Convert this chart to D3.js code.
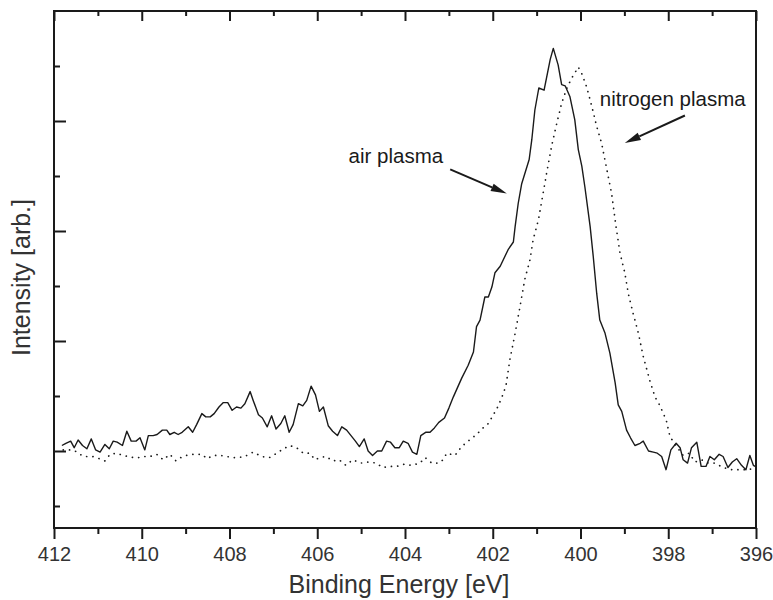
<!DOCTYPE html>
<html>
<head>
<meta charset="utf-8">
<script src="https://cdn.jsdelivr.net/npm/d3@7"></script>
<style>
  body { margin: 0; background: #fff; }
  text { font-family: Arial, "Liberation Sans", sans-serif; }
</style>
</head>
<body>
<svg id="chart" width="773" height="600"></svg>
<script>
// N 1s spectra, binding energy (eV) against intensity (arb. units, baseline = 0).
const airEnergy = [
  411.82, 411.73, 411.62, 411.54, 411.45, 411.35, 411.25, 411.15, 411.05, 410.95,
  410.84, 410.74, 410.65, 410.56, 410.44, 410.34, 410.24, 410.13, 410.04, 409.93,
  409.85, 409.74, 409.65, 409.53, 409.43, 409.36, 409.26, 409.17, 409.08, 408.94,
  408.84, 408.75, 408.63, 408.54, 408.44, 408.35, 408.24, 408.14, 408.04, 407.94,
  407.84, 407.74, 407.65, 407.53, 407.46, 407.34, 407.25, 407.14, 407.04, 406.94,
  406.83, 406.74, 406.64, 406.55, 406.43, 406.33, 406.24, 406.14, 406.04, 405.95,
  405.86, 405.75, 405.65, 405.54, 405.44, 405.33, 405.23, 405.13, 405.04, 404.93,
  404.84, 404.74, 404.63, 404.53, 404.42, 404.33, 404.23, 404.13, 404.04, 403.93,
  403.83, 403.73, 403.64, 403.53, 403.43, 403.33, 403.23, 403.10, 403.00, 402.90,
  402.71, 402.56, 402.44, 402.37, 402.29, 402.18, 402.10, 402.02, 401.95, 401.83,
  401.65, 401.53, 401.49, 401.42, 401.34, 401.17, 401.11, 401.04, 400.95, 400.83,
  400.69, 400.62, 400.51, 400.43, 400.35, 400.24, 400.13, 400.05, 399.97, 399.90,
  399.78, 399.71, 399.63, 399.56, 399.44, 399.33, 399.21, 399.14, 399.06, 398.95,
  398.86, 398.76, 398.64, 398.57, 398.45, 398.34, 398.25, 398.15, 398.05, 397.94,
  397.82, 397.73, 397.66, 397.56, 397.47, 397.35, 397.25, 397.14, 397.05, 396.95,
  396.84, 396.75, 396.64, 396.54, 396.44, 396.33, 396.23, 396.14, 396.06, 396.02
];
const airIntensity = [
  0.05, 0.07, 0.09, 0.03, 0.10, 0.05, 0.02, 0.11, 0.01, -0.01,
  0.06, 0.02, 0.09, 0.08, 0.05, 0.18, 0.09, 0.09, 0.12, 0.01,
  0.14, 0.14, 0.15, 0.19, 0.19, 0.15, 0.17, 0.15, 0.17, 0.22,
  0.17, 0.24, 0.34, 0.31, 0.31, 0.34, 0.40, 0.44, 0.44, 0.37,
  0.40, 0.39, 0.43, 0.54, 0.46, 0.33, 0.30, 0.22, 0.32, 0.20,
  0.25, 0.32, 0.17, 0.24, 0.43, 0.41, 0.46, 0.59, 0.51, 0.36,
  0.40, 0.23, 0.18, 0.14, 0.22, 0.19, 0.14, 0.09, 0.04, 0.11,
  0.00, -0.04, 0.00, 0.00, 0.09, 0.08, 0.03, 0.03, 0.09, 0.07,
  -0.01, -0.03, 0.14, 0.17, 0.17, 0.21, 0.26, 0.30, 0.39, 0.49,
  0.66, 0.78, 0.90, 1.13, 1.19, 1.40, 1.40, 1.49, 1.62, 1.68,
  1.83, 1.90, 2.04, 2.25, 2.43, 2.65, 2.83, 3.10, 3.30, 3.28,
  3.56, 3.66, 3.51, 3.33, 3.32, 3.22, 3.01, 2.74, 2.59, 2.40,
  2.04, 1.77, 1.43, 1.19, 1.07, 0.89, 0.62, 0.42, 0.36, 0.19,
  0.12, 0.05, 0.07, 0.09, 0.00, -0.01, -0.02, -0.05, -0.17, 0.01,
  0.07, 0.03, -0.08, -0.11, 0.03, 0.08, -0.14, -0.14, -0.05, -0.08,
  -0.03, -0.05, -0.15, -0.10, -0.07, -0.13, -0.17, -0.04, -0.13, -0.14
];

const nitrogenEnergy = [
  411.79, 411.62, 411.52, 411.33, 411.22, 411.12, 411.03, 410.84, 410.72, 410.57,
  410.43, 410.31, 410.19, 410.08, 409.94, 409.81, 409.66, 409.51, 409.36, 409.22,
  409.11, 408.98, 408.83, 408.63, 408.51, 408.37, 408.22, 408.06, 407.93, 407.80,
  407.65, 407.46, 407.27, 407.09, 406.92, 406.77, 406.62, 406.43, 406.32, 406.17,
  406.05, 405.94, 405.80, 405.65, 405.50, 405.35, 405.19, 405.01, 404.81, 404.66,
  404.51, 404.34, 404.19, 404.02, 403.85, 403.66, 403.54, 403.39, 403.24, 403.13,
  403.05, 402.86, 402.71, 402.56, 402.37, 402.22, 402.10, 402.00, 401.90, 401.80,
  401.70, 401.61, 401.49, 401.38, 401.27, 401.15, 401.08, 400.96, 400.88, 400.77,
  400.66, 400.54, 400.43, 400.31, 400.20, 400.05, 399.97, 399.86, 399.74, 399.63,
  399.52, 399.40, 399.29, 399.19, 399.10, 398.99, 398.91, 398.80, 398.68, 398.57,
  398.42, 398.30, 398.20, 398.11, 398.04, 397.96, 397.81, 397.66, 397.52, 397.39,
  397.24, 397.09, 396.94, 396.75, 396.55, 396.36, 396.21, 396.06
];
const nitrogenIntensity = [
  0.01, 0.01, 0.00, -0.05, -0.05, -0.05, -0.06, -0.09, -0.03, -0.02,
  -0.04, -0.05, -0.06, -0.06, -0.05, -0.05, -0.03, -0.08, -0.03, -0.09,
  -0.06, -0.04, -0.03, -0.03, -0.07, -0.04, -0.04, -0.05, -0.06, -0.06,
  -0.05, -0.01, -0.05, -0.06, -0.02, 0.02, 0.05, 0.02, -0.02, -0.02,
  -0.08, -0.06, -0.05, -0.09, -0.08, -0.13, -0.08, -0.11, -0.10, -0.11,
  -0.15, -0.14, -0.14, -0.12, -0.13, -0.11, -0.06, -0.11, -0.11, -0.08,
  -0.02, -0.04, 0.04, 0.09, 0.15, 0.21, 0.25, 0.32, 0.39, 0.48,
  0.59, 0.83, 1.07, 1.31, 1.56, 1.74, 1.92, 2.10, 2.28, 2.53,
  2.77, 2.98, 3.16, 3.30, 3.39, 3.49, 3.43, 3.31, 3.13, 2.95,
  2.80, 2.56, 2.34, 2.04, 1.80, 1.62, 1.43, 1.25, 1.07, 0.86,
  0.64, 0.49, 0.42, 0.34, 0.27, 0.13, 0.04, -0.04, -0.02, -0.10,
  -0.08, -0.11, -0.11, -0.15, -0.17, -0.17, -0.17, -0.16
];

const xMajorTicks = [412, 410, 408, 406, 404, 402, 400, 398, 396];
const xMinorTicks = [411, 409, 407, 405, 403, 401, 399, 397];
const yMajorTicks = [0, 1, 2, 3];
const yMinorTicks = [-0.5, 0.5, 1.5, 2.5, 3.5];

// Annotations: text position plus an arrow from -> to, all in (energy, intensity)
const airLabel = { text: "air plasma", at: [403.13, 2.62], anchor: "end", from: [402.97, 2.56], to: [401.68, 2.34] };
const nitrogenLabel = { text: "nitrogen plasma", at: [399.56, 3.14], anchor: "start", from: [397.62, 3.05], to: [398.99, 2.80] };

const LEFT = 54, RIGHT = 756, TOP = 11, BOTTOM = 528;
const INK = "#1a1a1a";
const TEXT = "#333";

const svg = d3.select("#chart");

const x = d3.scaleLinear().domain([412, 396]).range([LEFT, RIGHT]);
const y = d3.scaleLinear().domain([-0.7, 4.0]).range([BOTTOM, TOP]);

// Curves go under the frame so the frame stays crisp at the edges.
const line = d3.line()
  .x((d) => x(d[0]))
  .y((d) => y(d[1]));

const airData = airEnergy.map((e, i) => [e, airIntensity[i]]);
const nitrogenData = nitrogenEnergy.map((e, i) => [e, nitrogenIntensity[i]]);

svg.append("path")
  .datum(nitrogenData)
  .attr("d", line)
  .attr("fill", "none")
  .attr("stroke", INK)
  .attr("stroke-width", 1.7)
  .attr("stroke-linecap", "round")
  .attr("stroke-dasharray", "0.1 6.2");

svg.append("path")
  .datum(airData)
  .attr("d", line)
  .attr("fill", "none")
  .attr("stroke", INK)
  .attr("stroke-width", 1.4)
  .attr("stroke-linejoin", "round");

// Axes. Bottom ticks point out, top and left ticks point in, right side is bare.
function hideDomain(g) {
  g.select(".domain").remove();
  g.selectAll(".tick line").attr("stroke", INK).attr("stroke-width", 2);
}

svg.append("g")
  .attr("transform", `translate(0,${BOTTOM})`)
  .call(d3.axisBottom(x).tickValues(xMajorTicks).tickSize(11).tickPadding(8).tickFormat(d3.format("d")))
  .call(hideDomain)
  .call((g) => g.selectAll("text")
    .attr("fill", TEXT)
    .style("font-size", "20px"));

svg.append("g")
  .attr("transform", `translate(0,${BOTTOM})`)
  .call(d3.axisBottom(x).tickValues(xMinorTicks).tickSize(6).tickFormat(""))
  .call(hideDomain);

svg.append("g")
  .attr("transform", `translate(0,${TOP})`)
  .call(d3.axisBottom(x).tickValues(xMajorTicks).tickSize(10).tickFormat(""))
  .call(hideDomain);

svg.append("g")
  .attr("transform", `translate(0,${TOP})`)
  .call(d3.axisBottom(x).tickValues(xMinorTicks).tickSize(5).tickFormat(""))
  .call(hideDomain);

svg.append("g")
  .attr("transform", `translate(${LEFT},0)`)
  .call(d3.axisRight(y).tickValues(yMajorTicks).tickSize(12).tickFormat(""))
  .call(hideDomain);

svg.append("g")
  .attr("transform", `translate(${LEFT},0)`)
  .call(d3.axisRight(y).tickValues(yMinorTicks).tickSize(6).tickFormat(""))
  .call(hideDomain);

svg.selectAll(".tick text").attr("font-family", null);

// frame
svg.append("rect")
  .attr("x", LEFT)
  .attr("y", TOP)
  .attr("width", RIGHT - LEFT)
  .attr("height", BOTTOM - TOP)
  .attr("fill", "none")
  .attr("stroke", INK)
  .attr("stroke-width", 2);

// axis titles
svg.append("text")
  .attr("x", (LEFT + RIGHT) / 2 - 6)
  .attr("y", 593)
  .attr("text-anchor", "middle")
  .attr("fill", TEXT)
  .style("font-size", "25px")
  .text("Binding Energy [eV]");

svg.append("text")
  .attr("transform", `translate(30,${(TOP + BOTTOM) / 2 + 8}) rotate(-90)`)
  .attr("text-anchor", "middle")
  .attr("fill", TEXT)
  .style("font-size", "25px")
  .text("Intensity [arb.]");

// labels with arrows
function annotate(label) {
  svg.append("text")
    .attr("x", x(label.at[0]))
    .attr("y", y(label.at[1]))
    .attr("text-anchor", label.anchor)
    .attr("fill", INK)
    .style("font-size", "20.5px")
    .text(label.text);

  const [x0, y0] = [x(label.from[0]), y(label.from[1])];
  const [x1, y1] = [x(label.to[0]), y(label.to[1])];
  const angle = Math.atan2(y1 - y0, x1 - x0);
  const headLen = 16, headHalf = 4;
  const bx = x1 - headLen * Math.cos(angle);
  const by = y1 - headLen * Math.sin(angle);

  svg.append("line")
    .attr("x1", x0).attr("y1", y0)
    .attr("x2", bx).attr("y2", by)
    .attr("stroke", INK)
    .attr("stroke-width", 2);

  svg.append("path")
    .attr("d", `M${x1},${y1}`
      + `L${bx + headHalf * Math.sin(angle)},${by - headHalf * Math.cos(angle)}`
      + `L${bx - headHalf * Math.sin(angle)},${by + headHalf * Math.cos(angle)}Z`)
    .attr("fill", INK);
}

annotate(airLabel);
annotate(nitrogenLabel);
</script>
</body>
</html>
